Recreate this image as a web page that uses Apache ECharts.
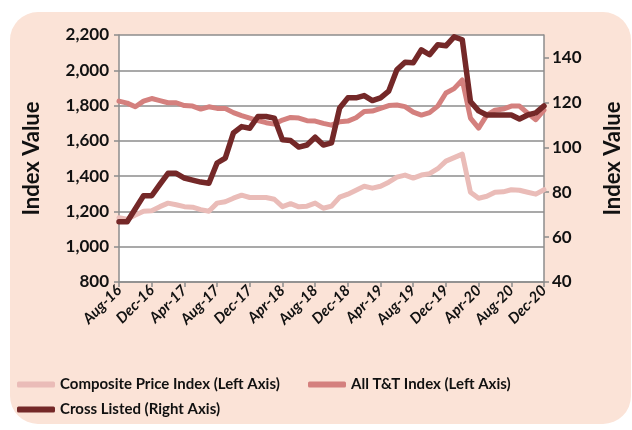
<!DOCTYPE html>
<html>
<head>
<meta charset="utf-8">
<script src="https://cdn.jsdelivr.net/npm/echarts@6/dist/echarts.min.js"></script>
<style>
  html, body { margin: 0; padding: 0; background: #fff; }
  #frame {
    position: absolute; left: 10px; top: 12px; width: 621px; height: 412px;
    background: #fbe3d7; border-radius: 28px;
  }
  #chart { position: absolute; left: 0; top: 0; width: 632px; height: 430px; }
</style>
</head>
<body>
<div id="frame"></div>
<div id="chart"></div>
<script>
// monthly, Aug-16 .. Dec-20
const months = ["Aug-16","Sep-16","Oct-16","Nov-16","Dec-16","Jan-17","Feb-17","Mar-17","Apr-17","May-17","Jun-17","Jul-17",
  "Aug-17","Sep-17","Oct-17","Nov-17","Dec-17","Jan-18","Feb-18","Mar-18","Apr-18","May-18","Jun-18","Jul-18",
  "Aug-18","Sep-18","Oct-18","Nov-18","Dec-18","Jan-19","Feb-19","Mar-19","Apr-19","May-19","Jun-19","Jul-19",
  "Aug-19","Sep-19","Oct-19","Nov-19","Dec-19","Jan-20","Feb-20","Mar-20","Apr-20","May-20","Jun-20","Jul-20",
  "Aug-20","Sep-20","Oct-20","Nov-20","Dec-20"];

const composite = [1164,1156,1179,1201,1204,1227,1247,1238,1227,1224,1210,1201,
  1247,1255,1275,1292,1279,1279,1279,1269,1227,1244,1226,1230,
  1247,1218,1230,1281,1298,1320,1343,1332,1343,1366,1394,1406,
  1389,1406,1414,1442,1485,1505,1525,1309,1275,1286,1309,1311,
  1323,1320,1309,1298,1323];

const allTT = [1825,1814,1793,1825,1840,1828,1816,1816,1800,1797,1780,1793,
  1784,1783,1760,1743,1729,1715,1703,1695,1718,1733,1729,1714,
  1712,1699,1689,1708,1712,1731,1766,1769,1784,1800,1803,1794,
  1763,1746,1760,1797,1871,1896,1945,1729,1672,1746,1774,1780,
  1797,1797,1757,1720,1774];

const crossListed = [66.8,66.8,72.6,78.4,78.4,83.5,88.4,88.4,86.3,85.4,84.5,84.0,
  93.0,95.2,106.4,109.2,108.5,113.7,113.7,113.0,103.3,103.0,100.1,101.0,
  104.5,101.0,102.0,117.5,122.0,122.0,123.0,120.8,122.0,125.0,134.5,137.9,
  137.6,143.4,141.2,145.7,145.2,149.2,147.9,120.4,116.2,114.4,114.4,114.4,
  114.4,112.6,114.4,115.3,118.4];

const names = ["Composite Price Index (Left Axis)", "All T&T Index (Left Axis)", "Cross Listed (Right Axis)"];
const colors = ["#eabcb8", "#d4807e", "#742828"];

const font = "Lato, 'Open Sans', sans-serif";
const gray = "#8c8c8c";

const chart = echarts.init(document.getElementById("chart"));

function legendAt(name, left, top) {
  return {
    data: [name], left: left, top: top, orient: "horizontal",
    icon: "roundRect", itemWidth: 38, itemHeight: 6, itemGap: 0,
    textStyle: { fontFamily: font, fontWeight: "bold", fontSize: 15, color: "#111" },
    selectedMode: false
  };
}

chart.setOption({
  animation: false,
  color: colors,
  legend: [
    legendAt(names[0], 12, 372),
    legendAt(names[1], 303, 372),
    legendAt(names[2], 12, 397)
  ],
  grid: {
    left: 119, right: 80, top: 35, bottom: 148,
    show: true, backgroundColor: "#fff", borderWidth: 0
  },
  xAxis: {
    type: "category",
    data: months,
    boundaryGap: false,
    axisLine: { lineStyle: { color: gray, width: 1.5 } },
    axisTick: { interval: 3, length: 5, lineStyle: { color: gray, width: 1.5 } },
    axisLabel: {
      interval: 3, rotate: 45, margin: 6,
      fontFamily: font, fontWeight: "bold", fontStyle: "italic", fontSize: 15, color: "#111"
    },
    splitLine: { show: false }
  },
  yAxis: [
    {
      type: "value", min: 800, max: 2200, interval: 200,
      name: "Index Value", nameLocation: "middle", nameGap: 76, nameRotate: 90,
      nameTextStyle: { fontFamily: font, fontWeight: "bold", fontSize: 22, color: "#111" },
      axisLine: { show: true, lineStyle: { color: gray, width: 1.5 } },
      axisTick: { show: true, length: 5, lineStyle: { color: gray, width: 1.5 } },
      axisLabel: {
        margin: 10,
        fontFamily: font, fontWeight: "bold", fontSize: 17, color: "#111",
        formatter: v => v.toLocaleString("en-US")
      },
      splitLine: { lineStyle: { color: gray, width: 1.5 } }
    },
    {
      type: "value", min: 40, max: 150, interval: 20, position: "right",
      name: "Index Value", nameLocation: "middle", nameGap: 58, nameRotate: 90,
      nameTextStyle: { fontFamily: font, fontWeight: "bold", fontSize: 22, color: "#111" },
      axisLine: { show: true, lineStyle: { color: gray, width: 1.5 } },
      axisTick: { show: true, length: 5, lineStyle: { color: gray, width: 1.5 } },
      axisLabel: {
        margin: 8, showMaxLabel: false,
        fontFamily: font, fontWeight: "bold", fontSize: 17, color: "#111"
      },
      splitLine: { show: false }
    }
  ],
  series: [
    {
      name: names[0], type: "line", data: composite, yAxisIndex: 0,
      showSymbol: false, symbol: "none",
      lineStyle: { width: 5, color: colors[0], cap: "round", join: "round" }
    },
    {
      name: names[1], type: "line", data: allTT, yAxisIndex: 0,
      showSymbol: false, symbol: "none",
      lineStyle: { width: 5, color: colors[1], cap: "round", join: "round" }
    },
    {
      name: names[2], type: "line", data: crossListed, yAxisIndex: 1,
      showSymbol: false, symbol: "none",
      lineStyle: { width: 5.5, color: colors[2], cap: "round", join: "round" }
    }
  ]
});
</script>
</body>
</html>
